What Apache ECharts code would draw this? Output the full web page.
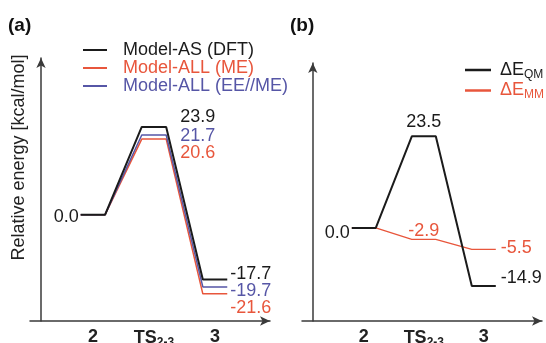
<!DOCTYPE html>
<html><head><meta charset="utf-8">
<script src="https://cdn.jsdelivr.net/npm/echarts@6/dist/echarts.min.js"></script>
<style>html,body{margin:0;padding:0;background:#fff}#c{width:546px;height:343px}</style>
</head><body><div id="c"></div>
<script>
// ---- data ----
const stages = ['2', 'TS', '3'];
const stageSubs = ['', '2-3', ''];
const seriesA = ['Model-AS (DFT)', 'Model-ALL (ME)', 'Model-ALL (EE//ME)'];
const modelAS_DFT = [0.0, 23.9, -17.7];
const modelALL_ME = [0.0, 20.6, -21.6];
const modelALL_EEME = [0.0, 21.7, -19.7];
const seriesB = ['ΔEQM', 'ΔEMM'];
const seriesBSubs = ['QM', 'MM'];
const dE_QM = [0.0, 23.5, -14.9];
const dE_MM = [0.0, -2.9, -5.5];
const yTitle = 'Relative energy [kcal/mol]';
const panelTitles = ['(a)', '(b)'];

// ---- style ----
const POS0 = 0.85, HALF = 0.2;
const FONT = '"Liberation Sans", Arial, Helvetica, sans-serif';
const BLACK = '#1b1b1b', RED = '#e8563c', BLUE = '#5656a6', AXIS = '#3a3a3a';
const catPos = stages.map((s, i) => i + POS0);

function buildData(values, labels) {
  const data = [];
  values.forEach((v, i) => {
    const c = i + POS0;
    const pts = { l: [c - HALF, v], c: [c, v], r: [c + HALF, v] };
    ['l', 'c', 'r'].forEach(k => {
      const item = { value: pts[k] };
      const spec = labels[i];
      if (spec && spec.pt === k) {
        const rest = Object.assign({}, spec); delete rest.pt;
        item.label = Object.assign({ show: true, formatter: v.toFixed(1), fontSize: 18, fontFamily: FONT }, rest);
      }
      data.push(item);
    });
  });
  return data;
}
function lineSeries(name, values, color, width, labels, gi, z) {
  return {
    type: 'line', name, xAxisIndex: gi, yAxisIndex: gi, data: buildData(values, labels),
    symbol: 'circle', symbolSize: 0.01, showSymbol: true, showAllSymbol: true,
    itemStyle: { color }, lineStyle: { color, width }, z, animation: false, silent: true,
    label: { show: false }
  };
}

function xAxisDef(gi, max) {
  return {
    type: 'value', gridIndex: gi, min: -0.18, max,
    axisLine: { onZero: false, symbol: ['none', 'arrow'], symbolSize: [7, 10], lineStyle: { color: AXIS, width: 1.5 } },
    axisTick: { show: false }, splitLine: { show: false },
    axisLabel: {
      customValues: catPos, margin: 7,
      formatter: v => { const i = Math.round(v - POS0); return stageSubs[i] ? '{b|' + stages[i] + '}{s|' + stageSubs[i] + '}' : '{b|' + stages[i] + '}'; },
      rich: {
        b: { fontSize: 18, fontWeight: 'bold', color: '#222', fontFamily: FONT },
        s: { fontSize: 12, fontWeight: 'bold', color: '#222', fontFamily: FONT, padding: [9, 0, 0, 0] }
      }
    }
  };
}
function yAxisDef(gi, min, max, withName) {
  const o = {
    type: 'value', gridIndex: gi, min, max,
    axisLine: { onZero: true, symbol: ['none', 'arrow'], symbolSize: [7, 10], lineStyle: { color: AXIS, width: 1.5 } },
    axisTick: { show: false }, splitLine: { show: false }, axisLabel: { show: false }
  };
  if (withName) {
    o.name = yTitle; o.nameLocation = 'middle'; o.nameGap = 2;
    o.nameTextStyle = { fontSize: 18, color: '#222', fontFamily: FONT, padding: [0, 0, 0, 64] };
  }
  return o;
}

const option = {
  backgroundColor: '#fff',
  animation: false,
  title: [
    { text: panelTitles[0], left: 8, top: 16, padding: 0, textStyle: { fontSize: 19, fontWeight: 'bold', color: '#111', fontFamily: FONT } },
    { text: panelTitles[1], left: 290, top: 16, padding: 0, textStyle: { fontSize: 19, fontWeight: 'bold', color: '#111', fontFamily: FONT } }
  ],
  grid: [
    { left: 30, top: 58, width: 240, bottom: 22, outerBoundsMode: 'none', containLabel: false },
    { left: 302, top: 63, width: 240, bottom: 22, outerBoundsMode: 'none', containLabel: false }
  ],
  xAxis: [xAxisDef(0, 3.75), xAxisDef(1, 3.82)],
  yAxis: [yAxisDef(0, -29, 42.7, true), yAxisDef(1, -23.85, 42.3, false)],
  legend: [
    {
      left: 83, top: 41, padding: 0, orient: 'vertical', itemWidth: 24, itemHeight: 2, itemGap: 0, icon: 'rect',
      selectedMode: false,
      textStyle: { fontSize: 18, lineHeight: 18, fontFamily: FONT, padding: [0, 0, 0, 11] },
      data: [
        { name: seriesA[0], textStyle: { color: BLACK } },
        { name: seriesA[1], textStyle: { color: RED } },
        { name: seriesA[2], textStyle: { color: BLUE } }
      ]
    },
    {
      left: 465, top: 60, padding: 0, orient: 'vertical', itemWidth: 26, itemHeight: 2.5, itemGap: 0, icon: 'rect',
      selectedMode: false,
      formatter: n => '{m|ΔE}{s|' + seriesBSubs[seriesB.indexOf(n)] + '}',
      textStyle: {
        fontSize: 18, lineHeight: 20, fontFamily: FONT, padding: [0, 0, 0, 4],
        rich: { m: { fontSize: 18, fontFamily: FONT }, s: { fontSize: 12, fontFamily: FONT, padding: [9, 0, 0, 0] } }
      },
      data: [
        { name: seriesB[0], textStyle: { color: BLACK } },
        { name: seriesB[1], textStyle: { color: RED } }
      ]
    }
  ],
  series: [
    lineSeries(seriesA[1], modelALL_ME, RED, 1.5, [null,
      { pt: 'r', position: 'right', distance: 14, offset: [0, 14], color: RED },
      { pt: 'r', position: 'right', distance: 3, offset: [0, 14], color: RED }], 0, 2),
    lineSeries(seriesA[2], modelALL_EEME, BLUE, 1.5, [null,
      { pt: 'r', position: 'right', distance: 14, offset: [0, 1], color: BLUE },
      { pt: 'r', position: 'right', distance: 3, offset: [0, 4], color: BLUE }], 0, 3),
    lineSeries(seriesA[0], modelAS_DFT, BLACK, 2, [
      { pt: 'l', position: 'left', distance: 2, offset: [0, 2], color: BLACK },
      { pt: 'r', position: 'right', distance: 14, offset: [0, -10], color: BLACK },
      { pt: 'r', position: 'right', distance: 3, offset: [0, -6], color: BLACK }], 0, 4),
    lineSeries(seriesB[1], dE_MM, RED, 1.3, [null,
      { pt: 'c', position: 'top', distance: 3, offset: [0, 4], color: RED },
      { pt: 'r', position: 'right', distance: 5, offset: [0, -1], color: RED }], 1, 2),
    lineSeries(seriesB[0], dE_QM, BLACK, 2, [
      { pt: 'l', position: 'left', distance: 2, offset: [0, 5], color: BLACK },
      { pt: 'c', position: 'top', distance: 5, offset: [0, 0], color: BLACK },
      { pt: 'r', position: 'right', distance: 5, offset: [0, -8], color: BLACK }], 1, 4)
  ]
};
const chart = echarts.init(document.getElementById('c'), null, { renderer: 'canvas' });
chart.setOption(option);
</script></body></html>
